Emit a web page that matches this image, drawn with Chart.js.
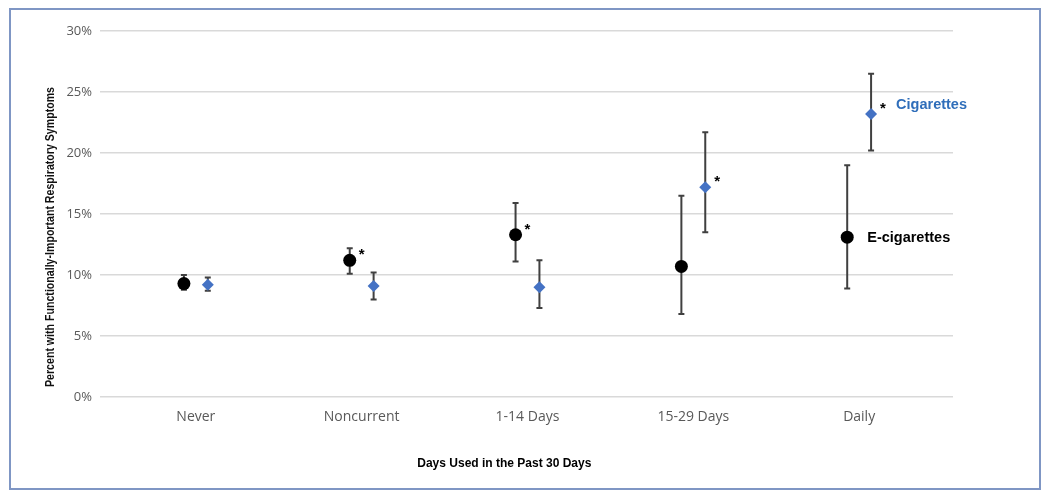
<!DOCTYPE html>
<html><head><meta charset="utf-8">
<script src="https://cdn.jsdelivr.net/npm/chart.js@4/dist/chart.umd.min.js"></script>
<style>html,body{margin:0;padding:0;background:#fff}#wrap{width:1050px;height:498px;position:relative}</style>
</head><body><div id="wrap"><canvas id="c" width="1050" height="498"></canvas></div>
<script>
const categories = ['Never', 'Noncurrent', '1-14 Days', '15-29 Days', 'Daily'];
const ecigValues = [9.3, 11.2, 13.3, 10.7, 13.1];
const ecigLower  = [8.8, 10.1, 11.1, 6.8, 8.9];
const ecigUpper  = [10.0, 12.2, 15.9, 16.5, 19.0];
const cigValues  = [9.2, 9.1, 9.0, 17.2, 23.2];
const cigLower   = [8.7, 8.0, 7.3, 13.5, 20.2];
const cigUpper   = [9.8, 10.2, 11.2, 21.7, 26.5];
const ecigSignificant = [false, true, true, false, false];
const cigSignificant  = [false, false, false, true, true];
const yTickValues = [0, 5, 10, 15, 20, 25, 30];
const seriesNames = ['E-cigarettes', 'Cigarettes'];
const yTitle = 'Percent with Functionally-Important Respiratory Symptoms';
const xTitle = 'Days Used in the Past 30 Days';

const ECIG_OFFSET = -0.072, CIG_OFFSET = 0.072;
const BLUE = '#4472C4';

const series = [
  {name: seriesNames[0], values: ecigValues, lower: ecigLower, upper: ecigUpper, sig: ecigSignificant, offset: ECIG_OFFSET},
  {name: seriesNames[1], values: cigValues, lower: cigLower, upper: cigUpper, sig: cigSignificant, offset: CIG_OFFSET}
];

const frame = {
  id: 'frame',
  beforeDraw(chart) {
    const ctx = chart.ctx;
    ctx.save();
    ctx.fillStyle = '#fff';
    ctx.fillRect(0, 0, chart.width, chart.height);
    ctx.strokeStyle = '#7F96C4';
    ctx.lineWidth = 2;
    ctx.strokeRect(10, 9, 1030, 480);
    ctx.restore();
  },
  afterDraw(chart) {
    const ctx = chart.ctx, ca = chart.chartArea;
    ctx.save();
    ctx.fillStyle = '#000';
    ctx.textAlign = 'center';
    ctx.textBaseline = 'middle';
    ctx.font = 'bold 12px "Liberation Sans", Arial, sans-serif';
    ctx.fillText(xTitle, ca.left + (ca.right - ca.left) * 0.474, 464);
    ctx.translate(50, 237);
    ctx.rotate(-Math.PI / 2);
    ctx.font = 'bold 13px "Liberation Sans", Arial, sans-serif';
    ctx.fillStyle = '#111';
    const w = ctx.measureText(yTitle).width;
    ctx.scale(300 / w, 1);
    ctx.fillText(yTitle, 0, 0);
    ctx.restore();
  }
};

const errorBars = {
  id: 'errorBars',
  beforeDatasetsDraw(chart) {
    const ctx = chart.ctx, y = chart.scales.y;
    ctx.save();
    ctx.strokeStyle = '#404040';
    ctx.lineWidth = 2;
    series.forEach((s, di) => {
      const meta = chart.getDatasetMeta(di);
      meta.data.forEach((pt, i) => {
        const yl = y.getPixelForValue(s.lower[i]);
        const yu = y.getPixelForValue(s.upper[i]);
        ctx.beginPath();
        ctx.moveTo(pt.x, yl); ctx.lineTo(pt.x, yu);
        ctx.moveTo(pt.x - 3, yl); ctx.lineTo(pt.x + 3, yl);
        ctx.moveTo(pt.x - 3, yu); ctx.lineTo(pt.x + 3, yu);
        ctx.stroke();
      });
    });
    ctx.restore();
  },
  afterDatasetsDraw(chart) {
    const ctx = chart.ctx;
    ctx.save();
    ctx.textBaseline = 'alphabetic';
    ctx.textAlign = 'left';
    series.forEach((s, di) => {
      const meta = chart.getDatasetMeta(di);
      meta.data.forEach((pt, i) => {
        if (s.sig[i]) {
          ctx.fillStyle = '#000';
          ctx.font = 'bold 15px "Liberation Sans", Arial, sans-serif';
          ctx.fillText('*', pt.x + 9, pt.y - 1);
        }
      });
    });
    const last = categories.length - 1;
    const e = chart.getDatasetMeta(0).data[last];
    const c = chart.getDatasetMeta(1).data[last];
    ctx.textBaseline = 'middle';
    ctx.font = 'bold 14.5px "Liberation Sans", Arial, sans-serif';
    ctx.fillStyle = '#000';
    ctx.fillText(seriesNames[0], e.x + 20, e.y + 1);
    ctx.fillStyle = '#2F6EBA';
    ctx.fillText(seriesNames[1], c.x + 25, c.y - 9);
    ctx.restore();
  }
};

new Chart(document.getElementById('c'), {
  type: 'scatter',
  data: {
    datasets: [
      {
        label: seriesNames[0],
        data: ecigValues.map((v, i) => ({x: i + ECIG_OFFSET, y: v})),
        pointStyle: 'circle', pointRadius: 6.5, pointHoverRadius: 6.5,
        backgroundColor: '#000', borderColor: '#000', borderWidth: 0
      },
      {
        label: seriesNames[1],
        data: cigValues.map((v, i) => ({x: i + CIG_OFFSET, y: v})),
        pointStyle: 'rectRot', pointRadius: 6, pointHoverRadius: 6,
        backgroundColor: BLUE, borderColor: BLUE, borderWidth: 0
      }
    ]
  },
  options: {
    responsive: false,
    animation: false,
    layout: {padding: {top: 31, right: 97, left: 0, bottom: 0}},
    plugins: {legend: {display: false}, tooltip: {enabled: false}},
    scales: {
      x: {
        type: 'linear', min: -0.578, max: 4.566,
        afterBuildTicks(scale) { scale.ticks = categories.map((c, i) => ({value: i})); },
        afterFit(scale) { scale.height = 101; },
        grid: {display: false, drawTicks: false},
        border: {display: false},
        ticks: {
          autoSkip: false, maxRotation: 0, padding: 12,
          color: '#595959',
          font: {family: '"Open Sans", sans-serif', size: 14},
          callback: (v) => categories[v]
        }
      },
      y: {
        min: 0, max: 30,
        afterBuildTicks(scale) { scale.ticks = yTickValues.map(v => ({value: v})); },
        afterFit(scale) { scale.width = 100; },
        grid: {color: '#D9D9D9', lineWidth: 1.5, drawTicks: false},
        border: {display: false},
        ticks: {
          padding: 8, color: '#595959',
          font: {family: '"Open Sans", sans-serif', size: 13},
          callback: (v) => v + '%'
        }
      }
    }
  },
  plugins: [frame, errorBars]
});
</script></body></html>
